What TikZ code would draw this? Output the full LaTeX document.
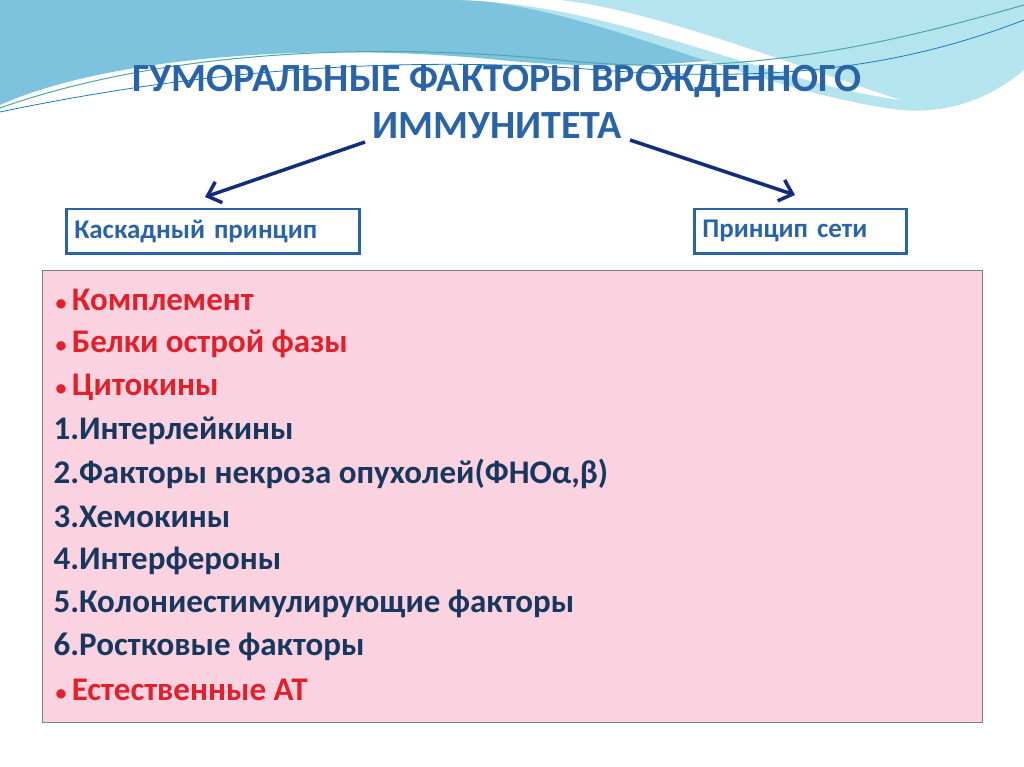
\documentclass[tikz,border=0pt]{standalone}
\usetikzlibrary{arrows.meta}
\usepackage{fontspec}
\setmainfont{Carlito}
\definecolor{tblue}{HTML}{2A64A8}
\definecolor{lblue}{HTML}{17375E}
\definecolor{lred}{HTML}{E3202A}
\definecolor{pinkf}{HTML}{FBD3E0}
\definecolor{wave1}{HTML}{7EC3DD}
\definecolor{wave2}{HTML}{B4E4EE}
\newcommand{\bul}{{\fontsize{22}{22}\selectfont•}\,}
\begin{document}
\begin{tikzpicture}[x=1pt,y=1pt,
  hbox/.style={draw=tblue,line width=2.5pt,fill=white,minimum height=44pt,anchor=north west,inner xsep=8pt,font=\bfseries\fontsize{27}{30}\selectfont,text=tblue,text width=#1,align=left},
  arr/.style={draw=lblue!80!blue,line width=3.5pt,-{Straight Barb[length=12pt,width=22pt]}},
  red/.style={anchor=west,text=lred,font=\bfseries\fontsize{33}{36}\selectfont},
  blu/.style={anchor=west,text=lblue,font=\bfseries\fontsize{33}{36}\selectfont}]
\useasboundingbox (0,0) rectangle (1024,-767);
% waves
\fill[wave1] (0,0) -- (1024,0) -- (1024,-10) .. controls (850,-40) and (700,-80) .. (500,-60) .. controls (300,-40) and (100,-60) .. (0,-105) -- cycle;
\fill[wave2] (470,0) .. controls (600,-10) and (750,-90) .. (900,-110) .. controls (960,-115) and (1000,-90) .. (1024,-70) -- (1024,0) -- cycle;
\fill[white] (460,0) .. controls (620,-5) and (760,-80) .. (900,-100) .. controls (780,-60) and (650,-10) .. (560,0) -- cycle;
\draw[teal!70,line width=1pt] (0,-108) .. controls (150,-55) and (350,-40) .. (560,-60) .. controls (750,-80) and (900,-40) .. (1024,-5);
\draw[cyan!60!blue,line width=0.8pt] (0,-112) .. controls (200,-70) and (400,-55) .. (600,-70) .. controls (800,-85) and (920,-60) .. (1024,-20);
% title
\node (t) [text=tblue,font=\bfseries\fontsize{40}{47}\selectfont,align=center] at (497,-102) {ГУМОРАЛЬНЫЕ ФАКТОРЫ ВРОЖДЕННОГО\\ИММУНИТЕТА};
\coordinate (sl) at (365,-142);
\coordinate (sr) at (630,-140);
% boxes
\node (a) [hbox=277pt] at (65,-208) {Каскадный принцип};
\node (b) [hbox=196pt] at (693,-208) {Принцип сети};
\draw[arr] (sl) -- (205,-197);
\draw[arr] (sr) -- (795,-195);
\node (p) [draw=black!50,line width=1pt,fill=pinkf,minimum width=940pt,minimum height=452pt,anchor=north west] at (42,-270) {};
\node[red] at (52,-300) {\bul Комплемент};
\node[red] at (52,-344) {\bul Белки острой фазы};
\node[red] at (52,-387) {\bul Цитокины};
\node[blu] at (50,-431) {1.Интерлейкины};
\node[blu] at (50,-474) {2.Факторы некроза опухолей(ФНОα,β)};
\node[blu] at (50,-517) {3.Хемокины};
\node[blu] at (50,-561) {4.Интерфероны};
\node[blu] at (50,-604) {5.Колониестимулирующие факторы};
\node[blu] at (50,-647) {6.Ростковые факторы};
\node[red] at (52,-690) {\bul Естественные АТ};
\end{tikzpicture}
\end{document}
